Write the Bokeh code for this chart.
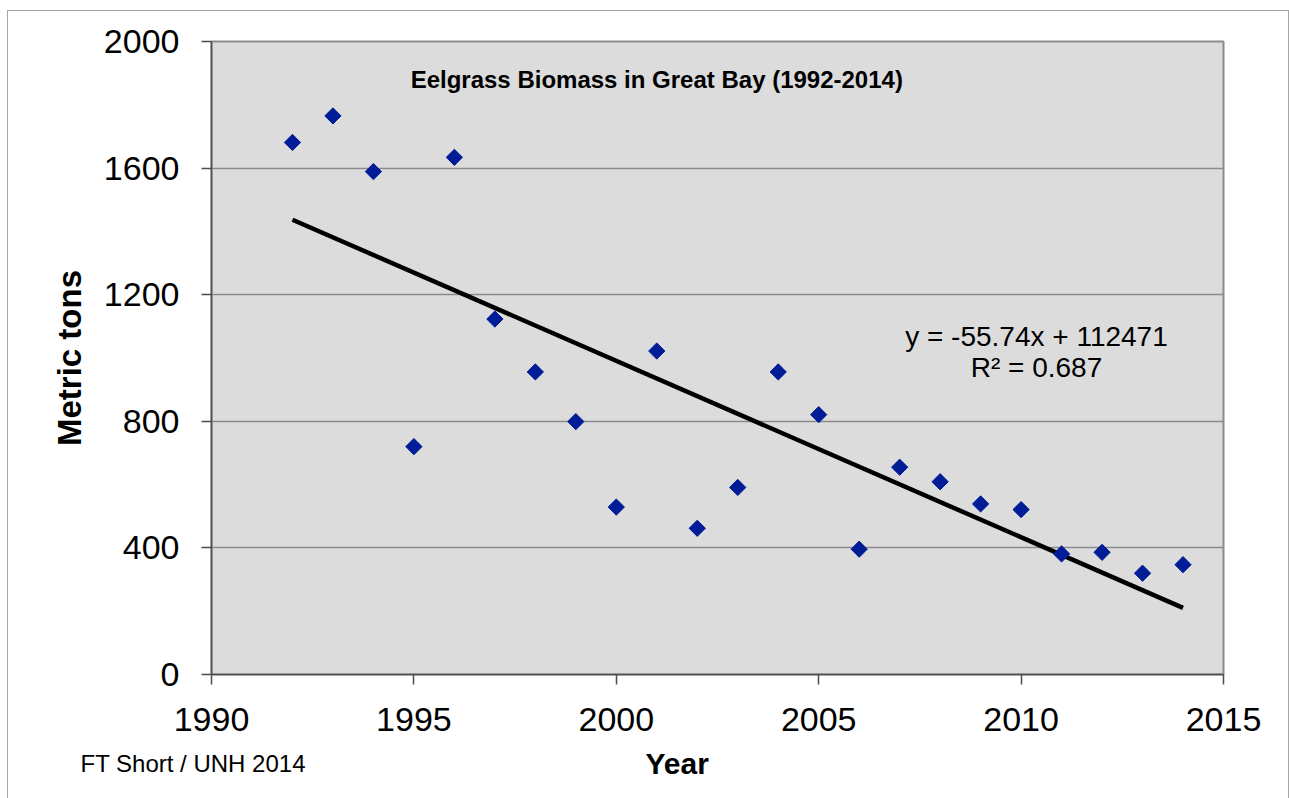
import numpy as np
from bokeh.plotting import figure
from bokeh.models import Range1d, Label, FixedTicker, Title
from bokeh.embed import file_html
from bokeh.resources import INLINE

# ---- data ----
years = [1992, 1993, 1994, 1995, 1996, 1997, 1998, 1999, 2000, 2001, 2002, 2003,
         2004, 2005, 2006, 2007, 2008, 2009, 2010, 2011, 2012, 2013, 2014]
biomass = [1681, 1765, 1589, 720, 1634, 1123, 956, 799, 529, 1022, 462, 591,
           956, 821, 396, 655, 609, 539, 521, 381, 386, 320, 347]
trend_slope = -55.74
trend_intercept = 112471
trend_years = [1992, 2014]
x_ticks = [1990, 1995, 2000, 2005, 2010, 2015]
y_ticks = [0, 400, 800, 1200, 1600, 2000]

FONT = "Liberation Sans"

p = figure(output_backend="svg", toolbar_location=None,
           frame_width=1012, frame_height=633,
           min_border_left=203, min_border_right=65,
           min_border_top=30, min_border_bottom=124,
           x_range=Range1d(1990, 2015), y_range=Range1d(0, 2000),
           background_fill_color="#dcdcdc", border_fill_color="white")
p.styles = {"outline": "1px solid #a6a6a6", "margin-left": "8px", "margin-top": "11px"}

p.outline_line_color = "#8c8c8c"
p.outline_line_width = 2

p.xgrid.grid_line_color = None
p.ygrid.grid_line_color = "#8a8a8a"
p.ygrid.grid_line_width = 1.5

for ax in (p.xaxis, p.yaxis):
    ax.axis_line_color = "#4d4d4d"
    ax.axis_line_width = 1.5
    ax.major_tick_line_color = "#4d4d4d"
    ax.major_tick_line_width = 1.5
    ax.major_tick_out = 10
    ax.major_tick_in = 0
    ax.minor_tick_line_color = None
    ax.major_label_text_font = FONT
    ax.major_label_text_font_size = "34px"
    ax.major_label_text_color = "black"

p.xaxis.ticker = FixedTicker(ticks=x_ticks)
p.yaxis.ticker = FixedTicker(ticks=y_ticks)
p.xaxis.major_label_standoff = 23
p.yaxis.major_label_standoff = 22

p.yaxis.axis_label = "Metric tons"
p.yaxis.axis_label_text_font = FONT
p.yaxis.axis_label_text_font_style = "bold"
p.yaxis.axis_label_text_font_size = "33px"
p.yaxis.axis_label_text_color = "black"
p.yaxis.axis_label_standoff = 13

# trend line from regression equation
trend_vals = [trend_slope * x + trend_intercept for x in trend_years]
p.line(trend_years, trend_vals, line_color="black", line_width=4.5)

# data points (diamonds)
p.scatter(years, biomass, marker="square", angle=np.pi / 4, size=11.5,
          fill_color="#001c96", line_color="#001c96")

# in-plot title
p.add_layout(Label(x=2001, y=1880, text="Eelgrass Biomass in Great Bay (1992-2014)",
                   text_font=FONT, text_font_style="bold", text_font_size="24px",
                   text_align="center", text_baseline="middle", text_color="black"))

# regression annotation
p.add_layout(Label(x=2010.38, y=1068, text="y = -55.74x + 112471",
                   text_font=FONT, text_font_size="28px",
                   text_align="center", text_baseline="middle", text_color="black"))
p.add_layout(Label(x=2010.38, y=971, text="R\u00b2 = 0.687",
                   text_font=FONT, text_font_size="28px",
                   text_align="center", text_baseline="middle", text_color="black"))

# x axis title and credit as titles below the axis
year_title = Title(text="Year", align="left", offset=434, standoff=23,
                   text_font=FONT, text_font_style="bold", text_font_size="30px",
                   text_color="black")
credit_title = Title(text="FT Short / UNH 2014", align="left", offset=-131, standoff=-84,
                     vertical_align="top",
                     text_font=FONT, text_font_style="normal", text_font_size="24px",
                     text_color="black")
p.add_layout(year_title, "below")
p.add_layout(credit_title, "below")

open("out.html", "w").write(file_html(p, INLINE))
